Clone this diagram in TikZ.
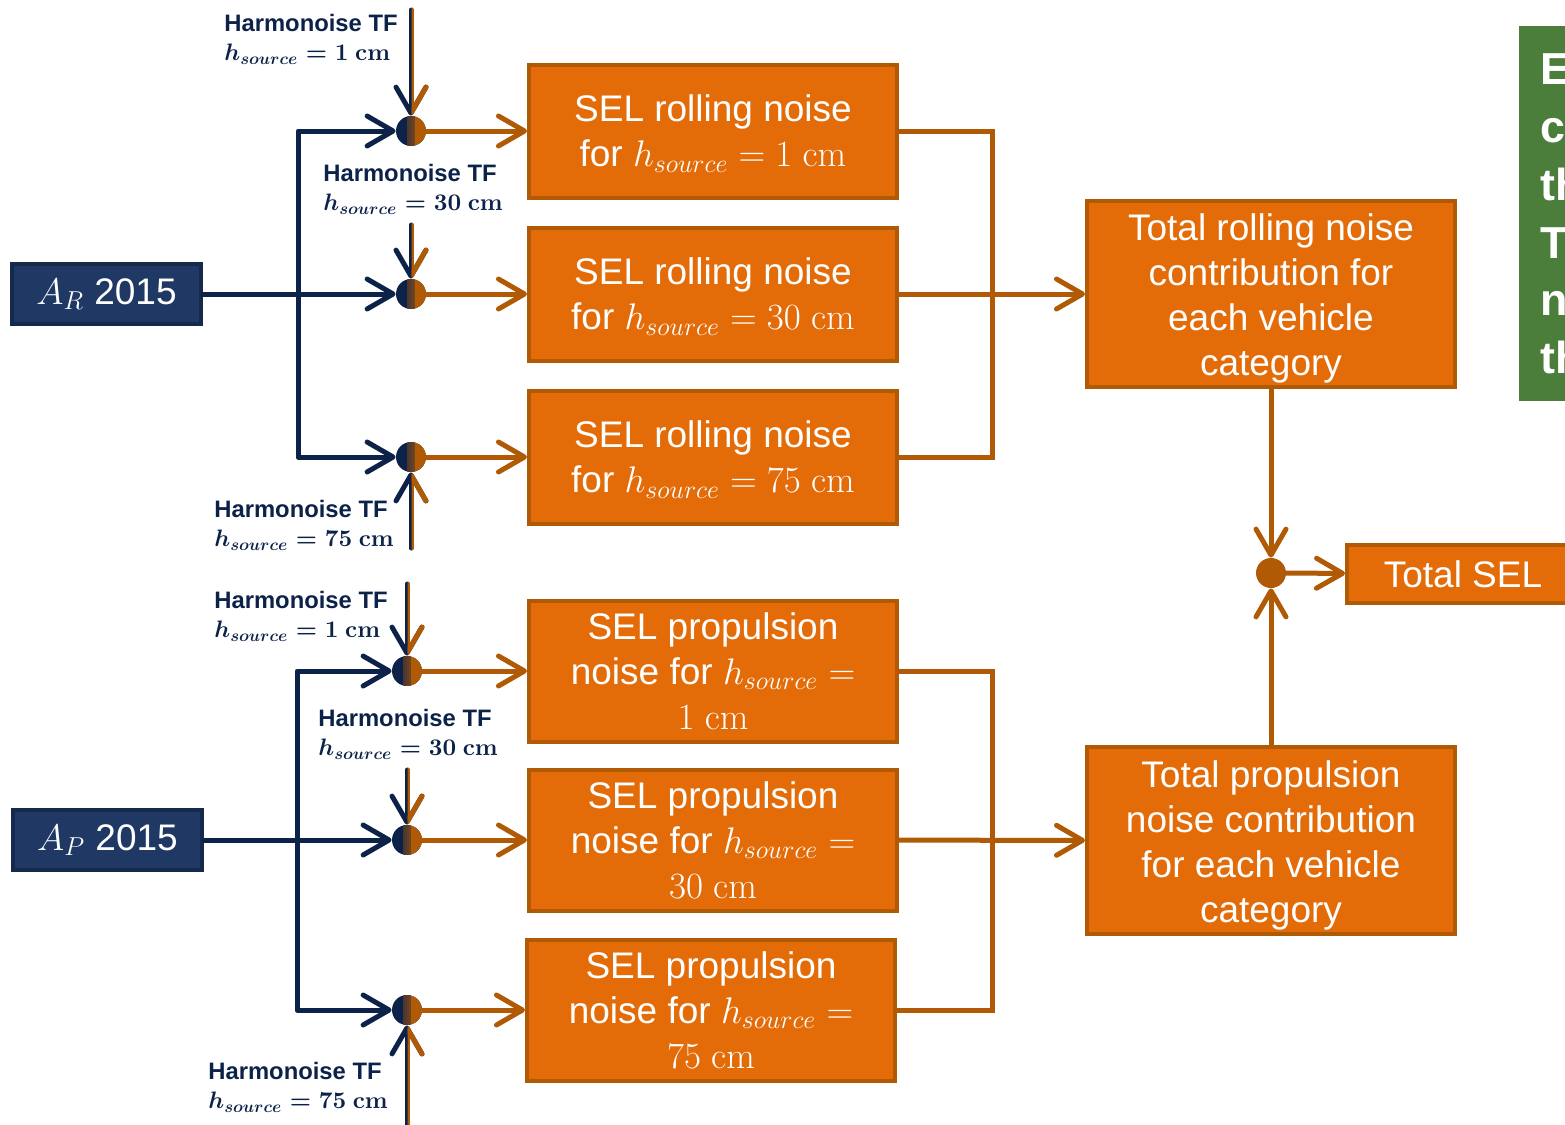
\documentclass[tikz,border=0pt]{standalone}
\usepackage{fix-cm}
\usepackage{amsmath}
\usepackage[no-math]{fontspec}
\setmainfont{Liberation Sans}
\usetikzlibrary{arrows.meta}
\definecolor{navy}{HTML}{0C2249}
\definecolor{navyfill}{HTML}{1F3864}
\definecolor{navyedge}{HTML}{15294D}
\definecolor{orfill}{HTML}{E36C09}
\definecolor{orline}{HTML}{B05A06}
\definecolor{grn}{HTML}{4A7E3A}
\newcommand{\lowtext}[1]{\raisebox{-2.5pt}[\height][\depth]{\begin{tabular}{@{}c@{}}#1\end{tabular}}}
\tikzset{
 narr/.style={draw=navy, line width=2.5pt, line cap=round, line join=round, -{Straight Barb[length=13pt,width=15pt,round]}},
 oarr/.style={narr, draw=orline},
 oline/.style={draw=orline, line width=2.5pt},
 orbox/.style={draw=orline, fill=orfill, line width=2pt, text=white, font=\fontsize{18.5}{22.5}\selectfont, align=center, inner sep=0pt, minimum width=184pt},
 nvbox/.style={draw=navyedge, fill=navyfill, line width=2pt, text=white, font=\fontsize{18.5}{22.5}\selectfont, inner sep=0pt, minimum width=94.5pt, minimum height=30pt},
 jdot/.style={circle, inner sep=0pt, minimum size=15pt, fill=navy, path picture={
   \shade[left color=navy, right color=orline] ([xshift=-2pt]path picture bounding box.south) rectangle ([xshift=2pt]path picture bounding box.north);
   \fill[orline] ([xshift=2pt]path picture bounding box.south) rectangle (path picture bounding box.north east);}},
 odot/.style={circle, inner sep=0pt, minimum size=15pt, fill=orline},
 lbl/.style={anchor=north west, inner sep=0pt, align=left, text=navy, font=\bfseries\fontsize{11.9}{14.5}\selectfont},
}
\begin{document}
\begin{tikzpicture}[x=0.5pt, y=-0.5pt]
\useasboundingbox (0,0) rectangle (1565,1125);

% input boxes
\node[nvbox] (ar) at (106.5,294) {$A_R$ 2015};
\node[nvbox] (ap) at (107.5,840) {$A_P$ 2015};

% junction dots
\node[jdot] (c1) at (411,131) {};
\node[jdot] (c2) at (411,294) {};
\node[jdot] (c3) at (411,457) {};
\node[jdot] (c4) at (407,671) {};
\node[jdot] (c5) at (407,840) {};
\node[jdot] (c6) at (407,1010) {};

% SEL boxes
\node[orbox, minimum height=66.5pt] (b1) at (713,131) {\strut SEL rolling noise\\for $h_{source} = 1\ \mathrm{cm}$};
\node[orbox, minimum height=66.5pt] (b2) at (713,294) {\strut SEL rolling noise\\for $h_{source} = 30\ \mathrm{cm}$};
\node[orbox, minimum height=66.5pt] (b3) at (713,457) {\strut SEL rolling noise\\for $h_{source} = 75\ \mathrm{cm}$};
\node[orbox, minimum height=70.5pt] (b4) at (713,671) {SEL propulsion\\noise for $h_{source} =$\\$1\ \mathrm{cm}$};
\node[orbox, minimum height=70.5pt] (b5) at (713,840) {SEL propulsion\\noise for $h_{source} =$\\$30\ \mathrm{cm}$};
\node[orbox, minimum height=70.5pt] (b6) at (711,1010) {SEL propulsion\\noise for $h_{source} =$\\$75\ \mathrm{cm}$};

% totals
\node[orbox, minimum height=93pt] (tr) at (1271,294) {\lowtext{Total rolling noise\\contribution for\\each vehicle\\category}};
\node[orbox, minimum height=93.5pt] (tp) at (1271,840.5) {\lowtext{Total propulsion\\noise contribution\\for each vehicle\\category}};
\node[odot] (cf) at (1271,573) {};
\node[orbox, minimum width=116pt, minimum height=29pt] (sel) at (1463,574) {Total SEL};

% green side box (cut off by the page edge, as in the reference)
\node[fill=grn, anchor=north west, minimum height=187.5pt, text width=40pt, inner xsep=10.5pt, inner ysep=0pt, align=left, text=white, font=\bfseries\fontsize{22.4}{28.9}\selectfont] (gb) at (1519,26) {E\\c\\th\\T\\n\\th};

% labels
\node[lbl] (l1) at (224,14) {Harmonoise TF\\{\boldmath$h_{source} = 1\ \mathrm{cm}$}};
\node[lbl] (l2) at (323,164) {Harmonoise TF\\{\boldmath$h_{source} = 30\ \mathrm{cm}$}};
\node[lbl] (l3) at (214,500) {Harmonoise TF\\{\boldmath$h_{source} = 75\ \mathrm{cm}$}};
\node[lbl] (l4) at (214,591) {Harmonoise TF\\{\boldmath$h_{source} = 1\ \mathrm{cm}$}};
\node[lbl] (l5) at (318,709) {Harmonoise TF\\{\boldmath$h_{source} = 30\ \mathrm{cm}$}};
\node[lbl] (l6) at (208,1062) {Harmonoise TF\\{\boldmath$h_{source} = 75\ \mathrm{cm}$}};

% coordinates
\coordinate (jr) at (298,294);
\coordinate (jp) at (297,840);
\coordinate (t1) at (411,10);
\coordinate (t2) at (411,225);
\coordinate (t3) at (411,548);
\coordinate (t4) at (407,584);
\coordinate (t5) at (407,770);
\coordinate (t6) at (407,1125);
\coordinate (mr) at (992,294);
\coordinate (mp) at (992,840);

% navy inputs
\draw[narr] (ar) -- (c2);
\draw[narr] (jr) |- (c1);
\draw[narr] (jr) |- (c3);
\draw[narr] (ap) -- (c5);
\draw[narr] (jp) |- (c4);
\draw[narr] (jp) |- (c6);

% transfer-function arrows
\draw[narr] (t1) -- (c1);
\draw[narr] (t2) -- (c2);
\draw[narr] (t3) -- (c3);
\draw[narr] (t4) -- (c4);
\draw[narr] (t5) -- (c5);
\draw[narr] (t6) -- (c6);
\begin{scope}
\clip (411.5,0) rectangle (445,560);
\draw[oarr] (t1) -- (c1);
\draw[oarr] (t2) -- (c2);
\draw[oarr] (t3) -- (c3);
\end{scope}
\begin{scope}
\clip (407.5,570) rectangle (445,1125);
\draw[oarr] (t4) -- (c4);
\draw[oarr] (t5) -- (c5);
\draw[oarr] (t6) -- (c6);
\end{scope}

% orange arrows to SEL boxes
\draw[oarr] (c1) -- (b1);
\draw[oarr] (c2) -- (b2);
\draw[oarr] (c3) -- (b3);
\draw[oarr] (c4) -- (b4);
\draw[oarr] (c5) -- (b5);
\draw[oarr] (c6) -- (b6);

% collectors
\draw[oline] (b1) -| (mr);
\draw[oline] (b3) -| (mr);
\draw[oarr] (b2) -- (tr);
\draw[oline] (b4) -| (mp);
\draw[oline] (b6) -| (mp);
\draw[oarr] (b5) -- (tp);

% final
\draw[oarr] (tr) -- (cf);
\draw[oarr] (tp) -- (cf);
\draw[oarr] (cf) -- (sel);
\end{tikzpicture}
\end{document}
